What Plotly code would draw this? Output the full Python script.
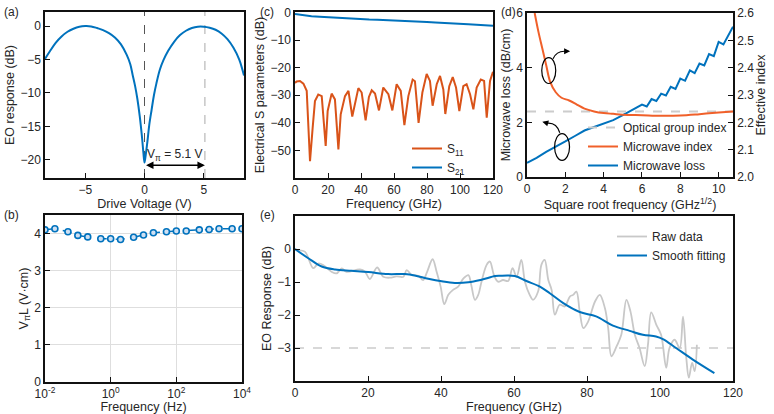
import plotly.graph_objects as go

# ---------------- data ----------------
# (a) EO response vs drive voltage
volts_a = [-8.4, -8.0, -7.5, -7.0, -6.5, -6.0, -5.5, -5.0, -4.5, -4.0, -3.5, -3.0, -2.5, -2.0,
           -1.5, -1.2, -1.0, -0.8, -0.6, -0.4, -0.2, -0.1, 0.0, 0.1, 0.25, 0.4, 0.6, 0.8, 1.0,
           1.3, 1.6, 2.0, 2.5, 3.0, 3.5, 4.0, 4.5, 5.0, 5.5, 6.0, 6.5, 7.0, 7.5, 8.0, 8.4]
eo_a = [-4.9, -3.8, -2.5, -1.55, -0.85, -0.4, -0.1, 0.0, -0.05, -0.3, -0.6, -1.05, -1.7, -2.7,
        -4.3, -5.7, -7.3, -8.9, -10.9, -13.5, -16.8, -18.8, -20.4, -19.3, -17.2, -14.8, -12.5,
        -10.3, -8.6, -6.5, -5.1, -3.7, -2.35, -1.35, -0.7, -0.3, -0.1, -0.1, -0.25, -0.55,
        -1.1, -1.95, -3.2, -5.0, -7.4]
v_pi = 5.1

# (b) VpiL vs frequency
freq_b = [0.01, 0.02, 0.05, 0.1, 0.2, 0.5, 1, 2, 5, 10, 20, 50, 100, 200, 500, 1000, 2000, 5000, 10000]
vpil_b = [4.10, 4.13, 4.05, 3.95, 3.91, 3.86, 3.86, 3.84, 3.90, 3.96, 4.02, 4.05, 4.07, 4.07,
          4.10, 4.11, 4.13, 4.13, 4.13]

# (c) electrical S parameters
freq_s11 = [0, 1.0, 3.0, 5.1, 7.1, 9.1, 10.7, 12.1, 14.1, 16.2, 18.6, 19.8, 22.2, 24.2, 26.3,
            27.7, 30.3, 32.4, 34.7, 36.8, 38.4, 40.4, 42.8, 44.8, 46.5, 48.5, 50.9, 53.5, 56.6,
            59.0, 61.6, 64.1, 66.3, 68.7, 71.3, 72.7, 74.9, 77.2, 79.8, 81.8, 83.4, 85.9, 87.9,
            89.9, 91.1, 93.5, 95.6, 97.6, 99.6, 102.0, 104.0, 106.1, 108.1, 110.1, 112.6,
            114.6, 116.2, 118.2, 120]
s11 = [-25.5, -25.0, -24.8, -25.8, -28.4, -53.9, -41.8, -32.1, -29.7, -30.3, -48.4, -35.7,
       -29.4, -31.5, -49.6, -36.9, -30.3, -28.4, -37.7, -31.8, -27.4, -29.0, -39.1, -30.6,
       -28.2, -29.4, -35.5, -27.2, -29.6, -35.5, -26.0, -28.4, -40.8, -30.3, -24.3, -24.9,
       -40.0, -29.0, -22.3, -24.8, -33.8, -26.0, -23.0, -27.9, -36.8, -26.7, -23.4, -27.2,
       -35.7, -26.7, -26.0, -29.6, -35.1, -27.2, -24.3, -24.8, -38.1, -24.8, -21.5]
freq_s21 = [0, 5, 10, 15, 20, 25, 30, 35, 40, 45, 50, 55, 60, 65, 70, 75, 80, 85, 90, 95, 100,
            105, 110, 115, 120]
s21 = [-0.5, -1.0, -1.3, -1.5, -1.7, -1.9, -2.0, -2.2, -2.3, -2.5, -2.6, -2.7, -2.8, -3.0,
       -3.1, -3.3, -3.4, -3.6, -3.7, -3.9, -4.0, -4.2, -4.4, -4.6, -4.8]

# (d) microwave loss and index vs sqrt(f)
sqrtf_loss = [0, 0.5, 1.0, 1.5, 2.0, 2.5, 3.0, 3.5, 4.0, 4.5, 5.0, 5.5, 6.0, 6.25, 6.5, 6.75,
              7.0, 7.25, 7.5, 7.75, 8.0, 8.25, 8.5, 8.75, 9.0, 9.25, 9.5, 9.75, 10.0, 10.25,
              10.5, 10.75]
mw_loss = [0.52, 0.70, 0.92, 1.10, 1.30, 1.50, 1.70, 1.83, 1.95, 2.08, 2.26, 2.45, 2.65, 2.58,
           2.85, 2.78, 3.05, 2.98, 3.30, 3.22, 3.60, 3.52, 3.90, 3.80, 4.15, 4.08, 4.50, 4.42,
           4.94, 4.85, 5.20, 5.50]
sqrtf_index = [0.4, 0.6, 0.8, 1.0, 1.2, 1.5, 1.8, 2.2, 2.6, 3.0, 3.5, 4.0, 4.5, 5.0, 6.0, 7.0,
               8.0, 9.0, 10.0, 10.75]
mw_index = [2.60, 2.53, 2.47, 2.41, 2.35, 2.31, 2.29, 2.28, 2.265, 2.25, 2.24, 2.234, 2.231,
            2.228, 2.226, 2.224, 2.225, 2.23, 2.236, 2.24]
sqrtf_opt = [0, 10.75]
opt_index = [2.24, 2.24]

# (e) EO response vs frequency
freq_raw = [0, 0.45, 2.7, 5.0, 6.4, 7.8, 10.0, 11.4, 12.8, 14.1, 17.8, 19.2, 20.5, 22.5, 24.2,
            26.0, 27.8, 29.7, 30.6, 32.0, 33.8, 35.1, 36.2, 37.7, 38.8, 39.9, 40.9, 42.0, 43.3,
            44.7, 46.1, 47.5, 48.3, 49.3, 50.2, 51.1, 52.5, 53.4, 54.5, 55.6, 57.0, 58.4, 59.6,
            60.7, 62.0, 63.0, 64.3, 65.2, 66.6, 67.5, 68.4, 69.4, 70.3, 71.2, 72.5, 73.9, 75.3,
            76.2, 77.1, 78.0, 79.0, 80.3, 82.2, 83.5, 84.9, 85.8, 86.7, 88.1, 89.4, 90.8, 91.9,
            93.1, 94.4, 95.8, 96.7, 97.6, 99.0, 100.3, 101.7, 102.6, 104.0, 105.4, 106.3, 107.2,
            107.9, 108.8, 109.5, 110.1]
eo_raw = [0.0, -0.03, -0.08, -0.58, -0.44, -0.49, -0.69, -0.74, -0.59, -0.69, -0.62, -0.69,
          -0.91, -0.56, -0.84, -0.87, -0.83, -0.84, -0.64, -0.79, -0.81, -0.94, -0.69, -0.31,
          -0.69, -1.14, -1.67, -1.39, -1.24, -1.14, -0.90, -0.79, -1.10, -1.54, -1.39, -0.99,
          -0.48, -0.38, -0.79, -0.99, -0.94, -0.97, -0.58, -0.84, -0.33, -0.99, -1.39, -1.54,
          -1.29, -0.48, -0.33, -0.94, -1.24, -1.99, -1.69, -1.74, -1.44, -1.39, -1.29, -1.89,
          -2.40, -2.20, -1.59, -1.39, -1.79, -2.40, -3.25, -2.95, -2.60, -1.54, -1.89, -2.60,
          -3.00, -3.55, -2.90, -1.92, -2.30, -2.60, -3.60, -3.00, -2.75, -3.00, -2.05, -3.30,
          -3.90, -3.45, -3.70, -2.90]
freq_fit = [0, 3.65, 7.3, 11.0, 15.5, 20.1, 25.5, 30.1, 32.8, 36.5, 40.2, 43.8, 47.5, 51.1,
            54.8, 56.1, 60.2, 63.4, 67.1, 69.8, 73.5, 78.0, 82.5, 87.1, 91.7, 95.3, 98.9, 100.8,
            104.4, 109.0, 114.9]
eo_fit = [0.0, -0.28, -0.53, -0.62, -0.66, -0.70, -0.76, -0.76, -0.80, -0.90, -0.98, -1.03,
          -1.01, -0.93, -0.82, -0.81, -0.82, -0.97, -1.14, -1.34, -1.64, -1.91, -2.04, -2.32,
          -2.48, -2.60, -2.65, -2.73, -3.00, -3.35, -3.76]
eo_3db = -3

BLUE = "#0072BD"
ORANGE = "#D95319"
GRAY = "#c8c8c8"
FONT = "Liberation Sans, Arial, sans-serif"

# panel boxes in window pixels: left, right, top, bottom
BOX_A = (45, 244, 12, 178)
BOX_C = (295, 493, 12, 178)
BOX_D = (527, 733, 13, 177)
BOX_B = (45, 242, 215, 382)
BOX_E = (295, 733, 216, 381)


def dom_x(box):
    return [box[0] / 774, box[1] / 774]


def dom_y(box):
    return [1 - box[3] / 414, 1 - box[2] / 414]


def ax(title, **kw):
    base = dict(showline=True, linecolor="#111111", linewidth=1.5, mirror=True, ticks="inside",
                ticklen=5, tickwidth=1.2, tickcolor="#111111", showgrid=False, zeroline=False,
                automargin=False, tickfont=dict(size=12, color="#262626"),
                title=dict(text=title, font=dict(size=12.5), standoff=3))
    base.update(kw)
    return base


fig = go.Figure()

# (a)
fig.add_trace(go.Scatter(x=volts_a, y=eo_a, mode="lines", line=dict(color=BLUE, width=2, shape="spline"),
                         showlegend=False, xaxis="x", yaxis="y"))

# (c)
fig.add_trace(go.Scatter(x=freq_s11, y=s11, mode="lines", name="S<sub>11</sub>",
                         line=dict(color=ORANGE, width=2), xaxis="x2", yaxis="y2", legend="legend"))
fig.add_trace(go.Scatter(x=freq_s21, y=s21, mode="lines", name="S<sub>21</sub>",
                         line=dict(color=BLUE, width=2), xaxis="x2", yaxis="y2", legend="legend"))

# (d)
fig.add_trace(go.Scatter(x=sqrtf_opt, y=opt_index, mode="lines", name="Optical group index",
                         line=dict(color="#cccccc", width=2, dash="dash"), xaxis="x3", yaxis="y4",
                         legend="legend2"))
fig.add_trace(go.Scatter(x=sqrtf_index, y=mw_index, mode="lines", name="Microwave index",
                         line=dict(color="#F0602A", width=2, shape="spline"), xaxis="x3", yaxis="y4",
                         legend="legend2"))
fig.add_trace(go.Scatter(x=sqrtf_loss, y=mw_loss, mode="lines", name="Microwave loss",
                         line=dict(color=BLUE, width=2), xaxis="x3", yaxis="y3", legend="legend2"))

# (b)
fig.add_trace(go.Scatter(x=freq_b, y=vpil_b, mode="lines+markers", showlegend=False,
                         line=dict(color=BLUE, width=1.5, dash="dash"),
                         marker=dict(symbol="circle", size=6, color="#cfe0f3",
                                     line=dict(color=BLUE, width=1.6)),
                         xaxis="x5", yaxis="y5"))

# (e)
fig.add_trace(go.Scatter(x=freq_raw, y=eo_raw, mode="lines", name="Raw data",
                         line=dict(color=GRAY, width=1.8, shape="spline"), xaxis="x6", yaxis="y6",
                         legend="legend3"))
fig.add_trace(go.Scatter(x=freq_fit, y=eo_fit, mode="lines", name="Smooth fitting",
                         line=dict(color=BLUE, width=2, shape="spline"), xaxis="x6", yaxis="y6",
                         legend="legend3"))

shapes = [
    dict(type="line", xref="x", yref="y", x0=0, x1=0, y0=-22.7, y1=2.1,
         line=dict(color="#555555", width=1, dash="dash"), layer="below"),
    dict(type="line", xref="x", yref="y", x0=v_pi, x1=v_pi, y0=-22.7, y1=2.1,
         line=dict(color="#aaaaaa", width=1, dash="dash"), layer="below"),
    dict(type="line", xref="x6", yref="y6", x0=0, x1=120, y0=eo_3db, y1=eo_3db,
         line=dict(color="#cccccc", width=1.5, dash="dash"), layer="below"),
    dict(type="circle", xref="x3", yref="y3", x0=0.77, x1=1.5, y0=3.42, y1=4.37,
         line=dict(color="black", width=1.2)),
    dict(type="circle", xref="x3", yref="y3", x0=1.44, x1=2.22, y0=0.61, y1=1.59,
         line=dict(color="black", width=1.2)),
    dict(type="path", xref="x3", yref="y3", path="M 1.36,4.33 Q 1.55,4.62 2.0,4.6",
         line=dict(color="black", width=1.2)),
    dict(type="path", xref="x3", yref="y3", path="M 1.71,1.62 Q 1.55,2.0 1.05,1.97",
         line=dict(color="black", width=1.2)),
]

annotations = [
    dict(x=v_pi, y=-20.8, ax=0, ay=-20.8, xref="x", yref="y", axref="x", ayref="y", text="",
         showarrow=True, arrowhead=2, arrowside="end+start", arrowsize=1, arrowwidth=1.5,
         arrowcolor="black"),
    dict(x=2.55, y=-19.2, xref="x", yref="y", text="V<sub>π</sub> = 5.1 V", showarrow=False,
         font=dict(size=12)),
    dict(x=2.25, y=4.6, ax=1.9, ay=4.6, xref="x3", yref="y3", axref="x3", ayref="y3", text="",
         showarrow=True, arrowhead=2, arrowsize=1, arrowwidth=1.2, arrowcolor="black"),
    dict(x=0.8, y=2.02, ax=1.1, ay=1.96, xref="x3", yref="y3", axref="x3", ayref="y3", text="",
         showarrow=True, arrowhead=2, arrowsize=1, arrowwidth=1.2, arrowcolor="black"),
]
for lbl, x, y in [("(a)", 2, 3), ("(c)", 258, 3), ("(d)", 499, 3), ("(b)", 2, 206), ("(e)", 258, 206)]:
    annotations.append(dict(x=x / 774, y=1 - y / 414, xref="paper", yref="paper", text=lbl,
                            showarrow=False, xanchor="left", yanchor="top", font=dict(size=12)))

leg = dict(bgcolor="rgba(0,0,0,0)", font=dict(size=12), tracegroupgap=0, itemwidth=30,
           xanchor="left", yanchor="top")

fig.update_layout(
    width=774, height=414, margin=dict(l=0, r=0, t=0, b=0, autoexpand=False),
    paper_bgcolor="white", plot_bgcolor="white",
    font=dict(family=FONT, size=12, color="#262626"),
    xaxis=ax("Drive Voltage (V)", domain=dom_x(BOX_A), range=[-8.4, 8.4], tickvals=[-5, 0, 5],
             anchor="y"),
    yaxis=ax("EO response (dB)", domain=dom_y(BOX_A), range=[-22.7, 2.1],
             tickvals=[-20, -15, -10, -5, 0], anchor="x"),
    xaxis2=ax("Frequency (GHz)", domain=dom_x(BOX_C), range=[0, 120], dtick=20, anchor="y2"),
    yaxis2=ax("Electrical S parameters (dB)", domain=dom_y(BOX_C), range=[-60, 0.2],
              tickvals=[-50, -40, -30, -20, -10, 0], anchor="x2"),
    xaxis3=ax("Square root frequency (GHz<sup>1/2</sup>)", domain=dom_x(BOX_D), range=[0, 10.75],
              dtick=2, anchor="y3"),
    yaxis3=ax("Microwave loss (dB/cm)", domain=dom_y(BOX_D), range=[0, 6], dtick=2, anchor="x3",
              mirror=False),
    yaxis4=ax("Effective index", domain=dom_y(BOX_D), range=[2.0, 2.6], dtick=0.1,
              tickformat=".1f", anchor="x3", overlaying="y3", side="right", mirror=False),
    xaxis5=ax("Frequency (Hz)", domain=dom_x(BOX_B), type="log", range=[-2, 4], anchor="y5",
              tickvals=[0.01, 1, 100, 10000],
              ticktext=["10<sup>-2</sup>", "10<sup>0</sup>", "10<sup>2</sup>", "10<sup>4</sup>"],
              showgrid=True, gridcolor="#dedede"),
    yaxis5=ax("V<sub>π</sub>L (V·cm)", domain=dom_y(BOX_B), range=[0, 4.5], dtick=1, anchor="x5",
              showgrid=True, gridcolor="#dedede"),
    xaxis6=ax("Frequency (GHz)", domain=dom_x(BOX_E), range=[0, 120], dtick=20, anchor="y6"),
    yaxis6=ax("EO Response (dB)", domain=dom_y(BOX_E), range=[-4, 1], tickvals=[-3, -2, -1, 0],
              anchor="x6"),
    legend=dict(leg, x=407 / 774, y=1 - 134 / 414),
    legend2=dict(leg, x=583 / 774, y=1 - 113 / 414),
    legend3=dict(leg, x=612 / 774, y=1 - 222 / 414),
    shapes=shapes,
    annotations=annotations,
)

# the page body has a default 8px margin; remove it so the figure sits at the window corner
fig.write_html("out.html", config={"displayModeBar": False},
               post_script="document.body.style.margin='0';")
